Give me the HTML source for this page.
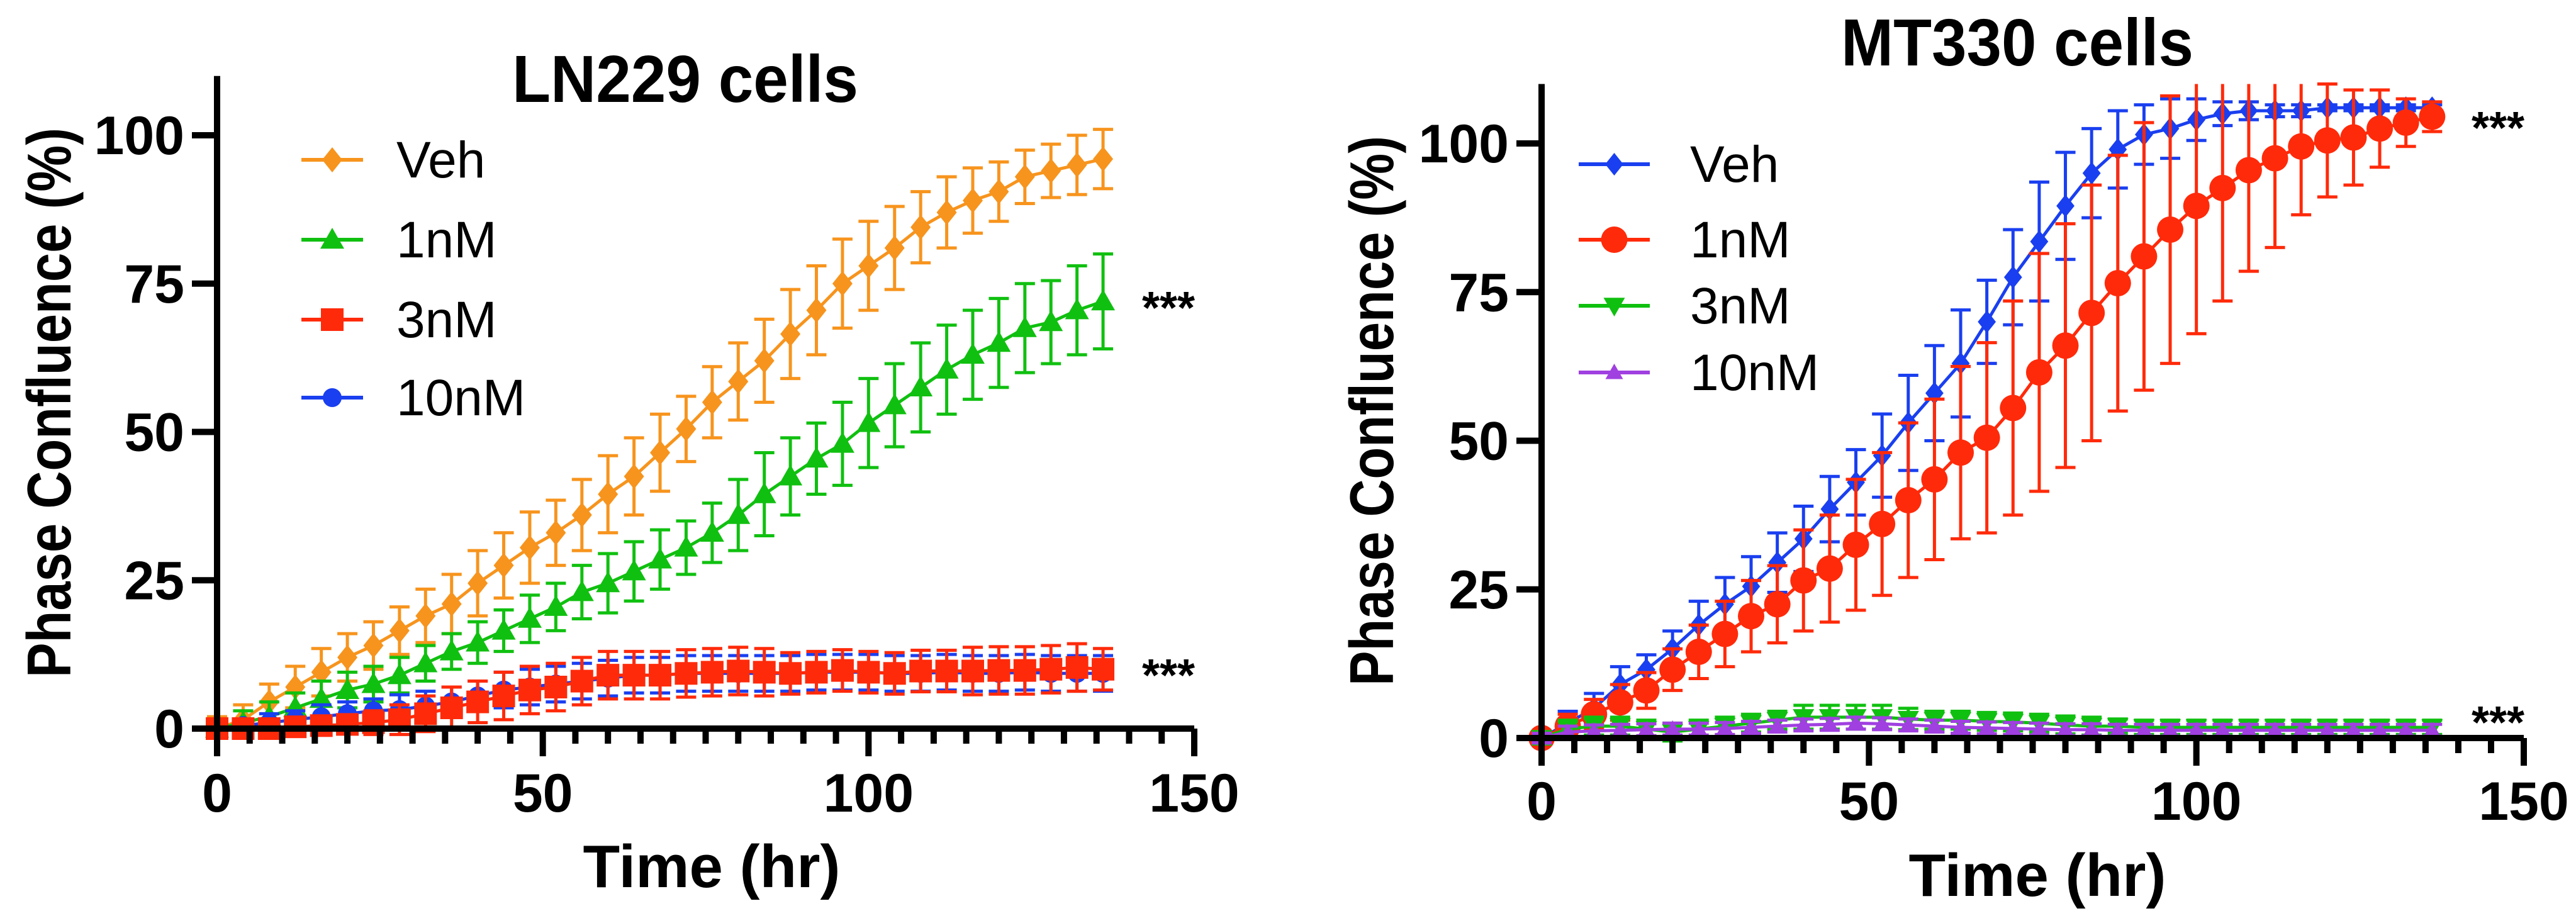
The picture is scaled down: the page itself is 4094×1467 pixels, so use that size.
<!DOCTYPE html>
<html><head><meta charset="utf-8">
<style>
html,body{margin:0;padding:0;background:#fff;}
svg{display:block;}
text{font-family:"Liberation Sans Narrow","Liberation Sans",sans-serif;}
</style></head>
<body>
<svg id="fig" width="4094" height="1467" viewBox="0 0 4094 1467" xmlns="http://www.w3.org/2000/svg"></svg>
<script>
const times=[0,4,8,12,16,20,24,28,32,36,40,44,48,52,56,60,64,68,72,76,80,84,88,92,96,100,104,108,112,116,120,124,128,132,136];
// LN229
const lnVeh=[0,1.5,4.5,7,9.5,12,14,16.5,19,21,24.5,27.5,30.5,33,36,39.5,42.5,46.5,50.5,55,58.5,62,66.5,70.5,75,78,81,84.5,87,89,90.5,93,94,95,96];
const lnVehErr=[2,2.5,3,3.5,4,4,4,4,4.5,5,5.5,5.5,6,5.5,6,6.5,6.5,6.5,5.5,6,6.5,7,7.5,7.5,7.5,7.5,7,6,6,5.5,5,4.5,4.5,5,5];
const ln1=[0,1,2,3.5,5,6.5,7.5,9,11,13,14.5,16.5,18.5,20.5,23,24.5,26.5,28.5,30.5,33,36,39.5,42.5,45.5,48,51.5,54.5,57.5,60.5,63,65,67.5,68.5,70.5,72];
const ln1Err=[1.5,2,2.5,2.5,3,3,3,3,3,3,3.5,3.5,4,4,4.5,5,5,5,4.5,5,6,7,6.5,6,7,7.5,7,7.5,7.5,7.5,7.5,7.5,7,7.5,8];
const ln3=[0,0,0,0.3,0.5,0.7,1,1.5,2.5,3.5,4.5,5.5,6.5,7,8,9,9,9,9.3,9.5,9.7,9.5,9.3,9.5,9.8,9.5,9.3,9.7,9.7,9.7,9.8,9.8,10,10.3,10];
const ln3Err=[1.5,1.5,1.5,1.5,1.5,1.5,2,2.5,3,3.5,3.5,4,4,4,4,4,4,4,4,4,4,4,3.5,3.5,3.5,3.5,3.5,3.5,3.5,4,4,4,4,4,3.5];
const ln10=[0,0.5,1,1.5,2,2.5,3,3.2,3.8,4.5,5.5,6.5,7,7.5,8,8.5,9,9,9.3,9.3,9.3,9.3,9.3,9.5,9.5,9.5,9.3,9.3,9.5,9.3,9.3,9.5,9.3,9.3,9.3];
const ln10Err=[1,1,1.5,1.5,2,2,2,2.5,2.5,2.5,2.5,3,3,3,3,3,3,3,3,3,3,3,3,3,3,3,3,3,3,3,3,3,3,3,3];
// MT330
const mtVeh=[0,2.5,5,9,11.5,15,19,22.5,25.5,29.5,33.5,38.5,43,47.5,53,58,63,70,77.5,83.5,89.5,95,99,101.5,102.5,104,105,105.5,105.5,105.5,106,106,106,106,106];
const mtVehErr=[1,2,2.5,3,2.5,3,4,4.5,5,5,5.5,5.5,5.5,7,8,8,9,7,8,10,9,7.5,6.5,5,5,3.5,2,1.5,1,1,0.5,0.5,0.5,0.5,0.5];
const mt1=[0,2,4,6,8,11.5,14.5,17.5,20.5,22.5,26.5,28.5,32.5,36,40,43.5,48,50.5,55.5,61.5,66,71.5,76.5,81,85.5,89.5,92.5,95.5,97.5,99.5,100.5,101,102.5,103.5,104.5];
const mt1Err=[1,2,2.5,3,3,3.5,4.5,5.5,6,6.5,8.5,9,11,12,13,13.5,14.5,16,18,20,20.5,21.5,21.5,22.5,22.5,21.5,19,17,15,11.5,9.5,8,6.5,4,2.5];
const mt3=[0,1.5,2,2,1.5,1,1.5,2,2.5,3,3.5,3.5,3.5,3.5,3.2,3,3,2.8,2.7,2.5,2.2,2,2,1.8,1.8,1.8,1.8,1.8,1.8,1.8,1.8,1.8,1.8,1.8,1.8];
const mt3Err=[1,1.5,1.5,1.5,1.5,1.5,1.5,1.5,1.5,1.5,2,2,2,2,1.8,1.5,1.5,1.5,1.5,1.5,1.5,1.5,1.2,1.2,1.2,1.2,1.2,1.2,1.2,1.2,1.2,1.2,1.2,1.2,1.2];
const mt10=[0,1,1.2,1.3,1.4,1.5,1.5,1.6,1.8,2,2.2,2.3,2.5,2.4,2.2,2,1.8,1.7,1.6,1.5,1.4,1.4,1.3,1.3,1.3,1.3,1.3,1.3,1.3,1.3,1.3,1.3,1.3,1.3,1.3];
const mt10Err=[0.8,1,1,1,1,1,1,1,1,1,1,1,1,1,1,1,1,1,1,1,1,1,1,1,1,1,1,1,1,1,1,1,1,1,1];
const yTicks=[0,25,50,75,100];
const xTicks=[0,50,100,150];

const NS="http://www.w3.org/2000/svg";
const svg=document.getElementById('fig');
function el(tag,attrs,parent,text){const e=document.createElementNS(NS,tag);for(const k in attrs)e.setAttribute(k,attrs[k]);if(text!==undefined)e.textContent=text;(parent||svg).appendChild(e);return e;}

function marker(g,shape,cx,cy,color,size){
  let m;
  if(shape==='diamond'){const s=size;m=el('polygon',{points:`${cx},${cy-s} ${cx+s*0.8},${cy} ${cx},${cy+s} ${cx-s*0.8},${cy}`,fill:color},g);}
  else if(shape==='tri'){const s=size;m=el('polygon',{points:`${cx},${cy-s} ${cx+s},${cy+s*0.75} ${cx-s},${cy+s*0.75}`,fill:color},g);}
  else if(shape==='tridown'){const s=size;m=el('polygon',{points:`${cx},${cy+s} ${cx+s},${cy-s*0.75} ${cx-s},${cy-s*0.75}`,fill:color},g);}
  else if(shape==='square'){m=el('rect',{x:cx-size,y:cy-size,width:size*2,height:size*2,fill:color},g);}
  else {m=el('circle',{cx:cx,cy:cy,r:size,fill:color},g);}
  return m;
}

function chart(cfg){
  const g=el('g',{});
  
  
  const X=v=>cfg.x0+(cfg.x1-cfg.x0)*v/150;
  const Y=v=>cfg.y0-(cfg.y0-cfg.y100)*v/100;
  const yTop=Y(110);
  cfg.series.forEach(s=>{
    const sg=el('g',{},g);
    
    
    times.forEach((t,i)=>{
      const x=X(t);let hi=Y(s.vals[i]+s.err[i]);const lo=Y(Math.max(s.vals[i]-s.err[i],-1.5));
      const clipped=hi<yTop; if(clipped)hi=yTop;
      const eb=el('path',{d:`M${x},${hi}V${lo}`+(clipped?'':`M${x-16},${hi}H${x+16}`)+`M${x-16},${lo}H${x+16}`,stroke:s.color,'stroke-width':5,fill:'none'},sg);
      
      
    });
    const line=el('polyline',{points:times.map((t,i)=>X(t)+','+Y(s.vals[i])).join(' '),stroke:s.color,'stroke-width':5,fill:'none'},sg);
    
    
    times.forEach((t,i)=>{
      const m=marker(sg,s.shape,X(t),Y(s.vals[i]),s.color,s.size);
      
      
    });
  });
  const ax=el('g',{},g);
  
  
  el('path',{d:`M${cfg.x0},${yTop}V${cfg.y0}H${cfg.x1}`,stroke:'#000','stroke-width':10,fill:'none'},ax);
  for(let t=0;t<=150;t+=5){
    const major=t%50===0;
    el('path',{d:`M${X(t)},${cfg.y0}V${cfg.y0+(major?44:24)}`,stroke:'#000','stroke-width':10},ax);
  }
  xTicks.forEach(t=>{
    const tl=el('text',{x:X(t),y:cfg.xLabY,'text-anchor':'middle','font-size':86,'font-weight':'bold'},ax,String(t));
    
    
  });
  yTicks.forEach(v=>{
    el('path',{d:`M${cfg.x0-40},${Y(v)}H${cfg.x0}`,stroke:'#000','stroke-width':10},ax);
    const tl=el('text',{x:cfg.x0-52,y:Y(v)+30,'text-anchor':'end','font-size':86,'font-weight':'bold'},ax,String(v));
    
    
  });
  const xt=el('text',{x:cfg.xTitleX,y:cfg.xTitleY,'text-anchor':'middle','font-size':96,'font-weight':'bold'},g,'Time (hr)');
  
  
  const yt=el('text',{x:0,y:0,'text-anchor':'middle','font-size':98,'font-weight':'bold','textLength':cfg.yTitleLen,'lengthAdjust':'spacingAndGlyphs',style:'font-family:"Liberation Sans",sans-serif',transform:`translate(${cfg.yTitleX},${cfg.yTitleY}) rotate(-90)`},g,'Phase Confluence (%)');
  
  
  const tt=el('text',{x:cfg.titleX,y:cfg.titleY,'text-anchor':'middle','font-size':106,'font-weight':'bold','textLength':cfg.titleLen,'lengthAdjust':'spacingAndGlyphs'},g,cfg.title);
  
  
  cfg.series.forEach(s=>{
    const lg=el('g',{},g);
    
    
    const ly=cfg.legY[s.leg];
    el('path',{d:`M${cfg.legX0},${ly}H${cfg.legX1}`,stroke:s.color,'stroke-width':6},lg);
    marker(lg,s.shape,(cfg.legX0+cfg.legX1)/2,ly,s.color,s.size);
    el('text',{x:cfg.legTX,y:ly+28,'font-size':82},lg,s.label);
  });
  cfg.stars.forEach(sy=>{
    const st=el('text',{x:cfg.starX,y:sy+30,'font-size':72,'font-weight':'bold',style:'font-family:"Liberation Sans",sans-serif'},g,'***');
    
    
  });
}

chart({name:'ln229-chart',title:'LN229 cells',titleX:1089,titleY:162,titleLen:550,
  x0:345,x1:1898,y0:1158,y100:215,xLabY:1290,xTitleX:1131,xTitleY:1410,
  yTitleX:112,yTitleY:640,yTitleLen:874,
  legX0:479,legX1:577,legTX:630,legY:[254,381,508,632],starX:1815,stars:[484,1068],
  series:[
    {key:'veh',label:'Veh',leg:0,color:'#f7941d',shape:'diamond',size:20,vals:lnVeh,err:lnVehErr},
    {key:'1nM',label:'1nM',leg:1,color:'#10c010',shape:'tri',size:19,vals:ln1,err:ln1Err},
    {key:'10nM',label:'10nM',leg:3,color:'#1a3ff0',shape:'circle',size:15,vals:ln10,err:ln10Err},
    {key:'3nM',label:'3nM',leg:2,color:'#ff2a0a',shape:'square',size:18,vals:ln3,err:ln3Err}
  ]});
</script>
<script>
chart({name:'mt330-chart',title:'MT330 cells',titleX:3206,titleY:104,titleLen:560,
  x0:2450,x1:4011,y0:1173,y100:228,xLabY:1303,xTitleX:3238,xTitleY:1424,
  yTitleX:2214,yTitleY:653,yTitleLen:874,
  legX0:2509,legX1:2622,legTX:2686,legY:[261,381,486,592],starX:3928,stars:[198,1143],
  series:[
    {key:'veh',label:'Veh',leg:0,color:'#1a3ff0',shape:'diamond',size:18,vals:mtVeh,err:mtVehErr},
    {key:'1nM',label:'1nM',leg:1,color:'#ff2a0a',shape:'circle',size:21,vals:mt1,err:mt1Err},
    {key:'3nM',label:'3nM',leg:2,color:'#10c010',shape:'tridown',size:17,vals:mt3,err:mt3Err},
    {key:'10nM',label:'10nM',leg:3,color:'#a040e0',shape:'tri',size:14,vals:mt10,err:mt10Err}
  ]});
</script>
</body></html>
